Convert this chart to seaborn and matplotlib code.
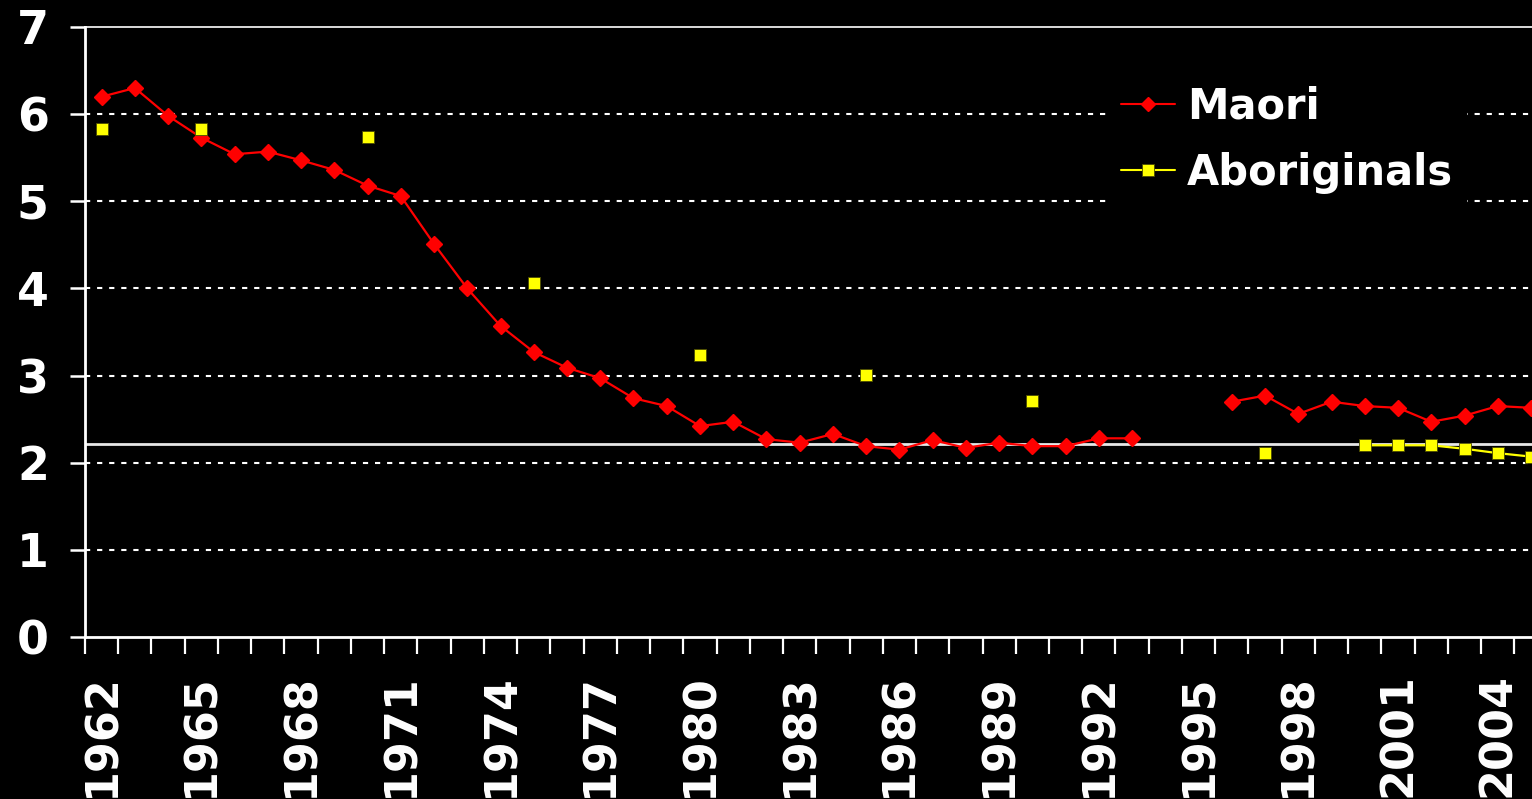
import numpy as np
import pandas as pd
import matplotlib
matplotlib.use("Agg")
import matplotlib.pyplot as plt
from matplotlib.lines import Line2D
import seaborn as sns

years = list(range(1962, 2006))
maori = [6.20, 6.30, 5.98, 5.73, 5.54, 5.57, 5.47, 5.36, 5.18, 5.06,
         4.51, 4.00, 3.57, 3.27, 3.09, 2.97, 2.74, 2.65, 2.42, 2.47,
         2.27, 2.23, 2.33, 2.19, 2.15, 2.26, 2.17, 2.23, 2.19, 2.19,
         2.28, 2.28, np.nan, np.nan, 2.70, 2.77, 2.56, 2.70, 2.65, 2.63,
         2.47, 2.54, 2.65, 2.63]
aboriginal_years = [1962, 1965, 1970, 1975, 1980, 1985, 1990, 1997,
                    2000, 2001, 2002, 2003, 2004, 2005]
aboriginal_vals = [5.83, 5.83, 5.74, 4.06, 3.24, 3.01, 2.71, 2.11,
                   2.20, 2.20, 2.20, 2.16, 2.11, 2.07]
replacement_level = 2.22
y_ticks = [0, 1, 2, 3, 4, 5, 6, 7]
x_label_years = list(range(1962, 2005, 3))
series_names = ["Maori", "Aboriginals"]


def to_segments(xs, ys):
    """Split into contiguous runs of consecutive years (gaps break the line)."""
    rows = []
    seg = 0
    prev = None
    for x, y in zip(xs, ys):
        if y is None or (isinstance(y, float) and np.isnan(y)):
            prev = None
            continue
        if prev is None or x - prev != 1:
            seg += 1
        rows.append((x, y, seg))
        prev = x
    return pd.DataFrame(rows, columns=["year", "value", "seg"])


df_m = to_segments(years, maori)
df_a = to_segments(aboriginal_years, aboriginal_vals)

sns.set_style("dark", {"axes.facecolor": "black", "figure.facecolor": "black"})
plt.rcParams["font.family"] = ["DejaVu Sans"]
plt.rcParams["font.weight"] = "bold"

fig = plt.figure(figsize=(15.32, 7.99), dpi=100, facecolor="black")
ax = fig.add_axes([85 / 1532, 1 - 637 / 799, 1 - 85 / 1532, (637 - 27) / 799])
ax.set_facecolor("black")

# grid lines
for yv in y_ticks[1:-1]:
    ax.axhline(yv, color="white", lw=1.5, ls=(0, (2.5, 3.3)), zorder=1)
ax.axhline(replacement_level, color="#e8e8e8", lw=2.0, zorder=2)

sns.lineplot(data=df_m, x="year", y="value", units="seg", estimator=None,
             color="#ff0000", lw=1.6, marker="D", ms=7.8, mec="#ff0000",
             mfc="#ff0000", mew=1, ax=ax, legend=False, zorder=3)
sns.lineplot(data=df_a, x="year", y="value", units="seg", estimator=None,
             color="#ffff00", lw=1.6, marker="s", ms=8.8, mec="#4a4a00",
             mfc="#ffff00", mew=0.6, ax=ax, legend=False, zorder=4)

ax.set_xlabel("")
ax.set_ylabel("")
ax.grid(False)

ax.set_yticks(y_ticks)
ax.set_yticklabels([str(v) for v in y_ticks])
ax.set_xticks(x_label_years)
ax.set_xticklabels([str(v) for v in x_label_years], rotation=90)
ax.set_xticks(np.arange(1961.5, 2005.6, 1), minor=True)
ax.set_xlim(1961.5, 2005.03)
ax.set_ylim(0, 7)

ax.tick_params(axis="y", which="major", left=True, direction="out", length=11,
               width=1.8, color="white", labelcolor="white", labelsize=33, pad=15)
ax.tick_params(axis="x", which="major", bottom=True, length=0, labelcolor="white",
               labelsize=32, pad=26)
ax.tick_params(axis="x", which="minor", bottom=True, direction="out", length=12,
               width=1.6, color="white")
for lab in ax.get_xticklabels() + ax.get_yticklabels():
    lab.set_fontweight("bold")
for lab in ax.get_xticklabels():
    lab.set_verticalalignment("top")

for side in ["left", "bottom", "top"]:
    ax.spines[side].set_visible(True)
    ax.spines[side].set_color("white")
ax.spines["left"].set_linewidth(2.0)
ax.spines["bottom"].set_linewidth(2.0)
ax.spines["top"].set_linewidth(1.2)
ax.spines["right"].set_visible(False)

handles = [
    Line2D([], [], color="#ff0000", lw=1.5, marker="D", ms=7.5, mec="#ff0000"),
    Line2D([], [], color="#ffff00", lw=1.5, marker="s", ms=8.2, mec="#4a4a00", mew=0.6),
]
leg = ax.legend(handles, series_names, loc="upper left",
                bbox_to_anchor=(1108 / 1532, 1 - 73 / 799),
                bbox_transform=fig.transFigure, frameon=True, facecolor="black",
                edgecolor="black", framealpha=1, fancybox=False,
                prop={"size": 30, "weight": "bold"}, handlelength=1.3,
                handletextpad=0.3, labelspacing=0.58, borderpad=0.3,
                borderaxespad=0)
for t in leg.get_texts():
    t.set_color("white")
leg.set_zorder(10)

fig.savefig("out.png", dpi=100, facecolor="black")
